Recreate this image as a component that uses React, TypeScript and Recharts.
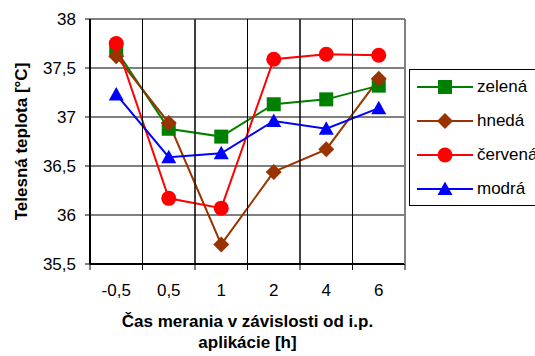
import React from 'react';
import { LineChart, Line, XAxis, YAxis, CartesianGrid, Legend, ReferenceLine } from 'recharts';

const labels = ['-0,5', '0,5', '1', '2', '4', '6'];
const zelena = [37.68, 36.88, 36.8, 37.13, 37.18, 37.32];
const hneda = [37.62, 36.94, 35.7, 36.44, 36.67, 37.39];
const cervena = [37.75, 36.17, 36.07, 37.59, 37.64, 37.63];
const modra = [37.23, 36.59, 36.63, 36.96, 36.88, 37.09];

const seriesKeys = ['zelena', 'hneda', 'cervena', 'modra'];
const seriesNames = ['zelená', 'hnedá', 'červená', 'modrá'];
const seriesColors = ['#008000', '#993300', '#FF0000', '#0000FF'];
const seriesShapes = ['square', 'diamond', 'circle', 'triangle'];
const yTicks = [35.5, 36, 36.5, 37, 37.5, 38];
// slot boundaries (grid lines / tick marks) and slot centres (category labels)
const boundaryTicks = labels.map((_, i) => i).concat(labels.length);
const innerBoundaries = boundaryTicks.slice(1, -1);
const centreTicks = labels.map((_, i) => i + 0.5);
const xTicks = boundaryTicks.concat(centreTicks).sort((a, b) => a - b);

const data = labels.map((label, i) => ({
  label,
  slot: i + 0.5,
  zelena: zelena[i],
  hneda: hneda[i],
  cervena: cervena[i],
  modra: modra[i],
}));

const FONT = '"Liberation Sans", Arial, sans-serif';
const CHART_W = 535;
const CHART_H = 356;
const MARGIN = { top: 18, right: 129, bottom: 0, left: 0 };
const TOP_AXIS_H = 1;
const X_AXIS_H = 92;
const PLOT_H = CHART_H - MARGIN.top - TOP_AXIS_H - X_AXIS_H - MARGIN.bottom;

function Marker({ cx, cy, shape, color }: { cx: number; cy: number; shape: string; color: string }) {
  if (cx == null || cy == null) return null;
  if (shape === 'square') return <rect x={cx - 7} y={cy - 7} width={14} height={14} fill={color} />;
  if (shape === 'diamond')
    return <polygon points={`${cx},${cy - 8} ${cx + 8},${cy} ${cx},${cy + 8} ${cx - 8},${cy}`} fill={color} />;
  if (shape === 'circle') return <circle cx={cx} cy={cy} r={7.5} fill={color} />;
  return <polygon points={`${cx},${cy - 7.5} ${cx + 7.5},${cy + 6} ${cx - 7.5},${cy + 6}`} fill={color} />;
}

// boundary ticks: tick mark (+ vertical grid line for inner boundaries); centre ticks: category label
const SlotTick = (props: any) => {
  const { x, y, payload } = props;
  const v = Number(payload && payload.value);
  const nx = Number(x);
  const ny = Number(y);
  if (Math.abs(v - Math.round(v)) < 1e-6) {
    const inner = v > 0.5 && v < labels.length - 0.5;
    return (
      <g>
        {inner && <line x1={nx} y1={ny - PLOT_H} x2={nx} y2={ny} stroke="#000" strokeWidth={1} />}
        <line x1={nx} y1={ny} x2={nx} y2={ny + 6} stroke="#000" strokeWidth={1} />
      </g>
    );
  }
  const label = labels[Math.floor(v)];
  return (
    <text x={nx} y={ny + 32} textAnchor="middle" fontFamily={FONT} fontSize={17} fill="#000">
      {label}
    </text>
  );
};

const verticalGen = (props: any) => {
  const xAxis = props && props.xAxis;
  if (!xAxis || typeof xAxis.scale !== 'function') return [];
  return innerBoundaries.map((b) => xAxis.scale(b)).filter((c: any) => Number.isFinite(c));
};

const XTitle = (props: any) => {
  const vb = props.viewBox || {};
  const cx = vb.x + vb.width / 2;
  return (
    <text x={cx} y={vb.y + 63} textAnchor="middle" fontFamily={FONT} fontSize={17} fontWeight="bold" fill="#000">
      <tspan x={cx} dy={0}>Čas merania v závislosti od i.p.</tspan>
      <tspan x={cx} dy={21}>aplikácie [h]</tspan>
    </text>
  );
};

const YTitle = (props: any) => {
  const vb = props.viewBox || {};
  const cy = vb.y + vb.height / 2;
  return (
    <text
      transform={`translate(27, ${cy}) rotate(-90)`}
      x={0}
      y={0}
      textAnchor="middle"
      fontFamily={FONT}
      fontSize={17}
      fontWeight="bold"
      fill="#000"
    >
      Telesná teplota [°C]
    </text>
  );
};

const renderLegend = () => (
  <div
    style={{
      border: '1px solid #000',
      background: '#fff',
      width: 140,
      height: 137,
      boxSizing: 'border-box',
      fontFamily: FONT,
      fontSize: 17,
      color: '#000',
    }}
  >
    {seriesNames.map((n, i) => (
      <div key={n} style={{ display: 'flex', alignItems: 'center', height: 34, paddingLeft: 7 }}>
        <svg width={56} height={20} style={{ display: 'block' }}>
          <line x1={0} y1={10} x2={56} y2={10} stroke={seriesColors[i]} strokeWidth={2} />
          <Marker cx={28} cy={10} shape={seriesShapes[i]} color={seriesColors[i]} />
        </svg>
        <span style={{ marginLeft: 4 }}>{n}</span>
      </div>
    ))}
  </div>
);

export default function App() {
  return (
    <div style={{ position: 'absolute', left: 0, top: 0, width: CHART_W, height: CHART_H, overflow: 'hidden', background: '#fff' }}>
      <LineChart width={CHART_W} height={CHART_H} data={data} margin={MARGIN}>
        <CartesianGrid
          xAxisId="a"
          yAxisId="y"
          stroke="#000"
          strokeWidth={1}
          verticalCoordinatesGenerator={verticalGen}
        />
        {innerBoundaries.map((b) => (
          <ReferenceLine
            key={`v${b}`}
            xAxisId="a"
            yAxisId="y"
            x={b}
            stroke="#000"
            strokeWidth={1}
            ifOverflow="visible"
          />
        ))}
        <XAxis
          xAxisId="a"
          type="number"
          dataKey="slot"
          domain={[0, labels.length]}
          ticks={xTicks}
          interval={0}
          allowDataOverflow
          tick={SlotTick}
          tickLine={false}
          tickSize={0}
          tickMargin={0}
          height={X_AXIS_H}
          axisLine={{ stroke: '#000', strokeWidth: 2 }}
          label={{ content: XTitle }}
        />
        <XAxis
          xAxisId="top"
          orientation="top"
          type="number"
          domain={[0, 1]}
          allowDataOverflow
          height={TOP_AXIS_H}
          tick={false}
          tickLine={false}
          axisLine={{ stroke: '#808080', strokeWidth: 2 }}
        />
        <YAxis
          yAxisId="y"
          domain={[35.5, 38]}
          ticks={yTicks}
          interval={0}
          width={90}
          tickSize={5}
          tickMargin={9}
          tickFormatter={(v: number) => String(v).replace('.', ',')}
          axisLine={{ stroke: '#000', strokeWidth: 2 }}
          tickLine={{ stroke: '#000' }}
          tick={{ fill: '#000', fontSize: 17, fontFamily: FONT }}
          label={{ content: YTitle }}
        />
        <YAxis
          yAxisId="r"
          orientation="right"
          domain={[0, 1]}
          allowDataOverflow
          width={1}
          tick={false}
          tickLine={false}
          axisLine={{ stroke: '#808080', strokeWidth: 2 }}
        />
        {seriesKeys.map((k, i) => (
          <Line
            key={k}
            xAxisId="a"
            yAxisId="y"
            dataKey={k}
            name={seriesNames[i]}
            stroke={seriesColors[i]}
            strokeWidth={2}
            isAnimationActive={false}
            dot={(p: any) => (
              <Marker key={`${k}-${p.index}`} cx={p.cx} cy={p.cy} shape={seriesShapes[i]} color={seriesColors[i]} />
            )}
            activeDot={false}
          />
        ))}
        <Legend
          layout="horizontal"
          verticalAlign="middle"
          align="center"
          wrapperStyle={{ left: 409, top: 69, right: 'auto', bottom: 'auto', width: 140, height: 137 }}
          content={renderLegend}
        />
      </LineChart>
    </div>
  );
}
